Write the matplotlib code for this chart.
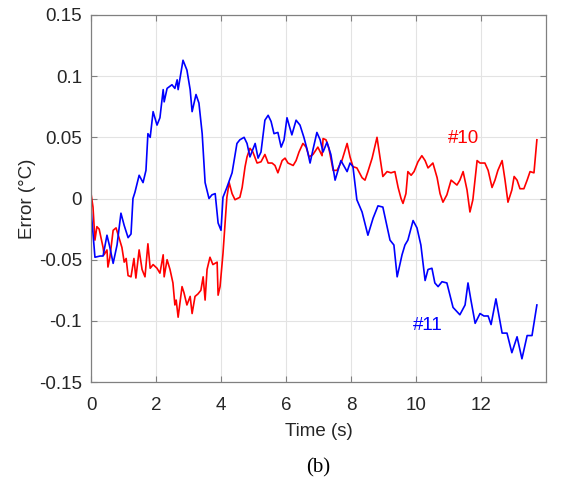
"""
    Error of sensors #10 and #11 over time, MATLAB-style figure (b).
"""

import matplotlib
matplotlib.use('Agg')
import matplotlib.pyplot as plt

# Sensor #11 (blue)
t11 = [0.00, 0.12, 0.28, 0.37, 0.49, 0.58, 0.68, 0.80, 0.92, 1.02, 1.14, 1.23,
       1.29, 1.35, 1.48, 1.60, 1.69, 1.75, 1.82, 1.91, 2.03, 2.12, 2.22, 2.25,
       2.34, 2.49, 2.58, 2.65, 2.68, 2.83, 2.95, 3.05, 3.11, 3.23, 3.32, 3.42,
       3.51, 3.63, 3.72, 3.82, 3.91, 4.00, 4.06, 4.18, 4.34, 4.49, 4.58, 4.71,
       4.80, 4.89, 5.05, 5.14, 5.23, 5.35, 5.45, 5.54, 5.63, 5.75, 5.85, 5.94,
       6.03, 6.18, 6.31, 6.43, 6.55, 6.65, 6.74, 6.83, 6.95, 7.05, 7.14, 7.26,
       7.38, 7.51, 7.69, 7.88, 7.97, 8.06, 8.18, 8.34, 8.52, 8.68, 8.83, 8.98,
       9.11, 9.20, 9.32, 9.42, 9.57, 9.66, 9.75, 9.91, 10.03, 10.15, 10.28,
       10.37, 10.49, 10.58, 10.68, 10.80, 10.95, 11.14, 11.35, 11.51, 11.60,
       11.69, 11.82, 11.97, 12.09, 12.22, 12.31, 12.46, 12.65, 12.80, 12.95,
       13.11, 13.26, 13.42, 13.57, 13.72]
e11 = [-0.009, -0.048, -0.047, -0.047, -0.030, -0.040, -0.053, -0.038, -0.012,
       -0.022, -0.032, -0.029, 0.000, 0.005, 0.019, 0.013, 0.023, 0.053, 0.050,
       0.071, 0.060, 0.066, 0.089, 0.079, 0.090, 0.093, 0.090, 0.097, 0.089,
       0.113, 0.105, 0.089, 0.071, 0.085, 0.078, 0.053, 0.013, 0.000, 0.003,
       0.004, -0.020, -0.026, 0.001, 0.009, 0.021, 0.045, 0.048, 0.050, 0.045,
       0.034, 0.045, 0.033, 0.038, 0.064, 0.068, 0.063, 0.053, 0.054, 0.042,
       0.048, 0.066, 0.052, 0.064, 0.060, 0.050, 0.040, 0.029, 0.040, 0.054,
       0.048, 0.038, 0.046, 0.036, 0.015, 0.031, 0.022, 0.029, 0.026, -0.001,
       -0.011, -0.030, -0.016, -0.006, -0.007, -0.023, -0.034, -0.038, -0.064,
       -0.046, -0.038, -0.034, -0.018, -0.024, -0.038, -0.067, -0.058, -0.057,
       -0.069, -0.072, -0.068, -0.069, -0.089, -0.095, -0.087, -0.069, -0.083,
       -0.102, -0.094, -0.096, -0.096, -0.103, -0.082, -0.110, -0.110, -0.126,
       -0.113, -0.131, -0.112, -0.112, -0.087]

# Sensor #10 (red)
t10 = [0.00, 0.06, 0.12, 0.18, 0.25, 0.37, 0.40, 0.49, 0.52, 0.58, 0.68, 0.77,
       0.86, 0.95, 1.02, 1.08, 1.14, 1.23, 1.32, 1.38, 1.48, 1.57, 1.66, 1.75,
       1.82, 1.91, 2.03, 2.12, 2.22, 2.25, 2.34, 2.43, 2.52, 2.58, 2.62, 2.68,
       2.80, 2.86, 2.95, 3.05, 3.11, 3.20, 3.29, 3.38, 3.45, 3.51, 3.57, 3.66,
       3.75, 3.88, 3.91, 3.97, 4.06, 4.18, 4.25, 4.34, 4.43, 4.58, 4.65, 4.74,
       4.80, 4.89, 4.98, 5.11, 5.23, 5.35, 5.45, 5.57, 5.66, 5.75, 5.88, 5.97,
       6.06, 6.22, 6.31, 6.40, 6.52, 6.62, 6.71, 6.83, 6.98, 7.11, 7.14, 7.23,
       7.32, 7.45, 7.57, 7.72, 7.88, 7.97, 8.06, 8.18, 8.34, 8.43, 8.52, 8.65,
       8.80, 8.89, 8.98, 9.11, 9.23, 9.35, 9.45, 9.54, 9.60, 9.69, 9.75, 9.85,
       9.94, 10.06, 10.18, 10.28, 10.37, 10.52, 10.65, 10.74, 10.83, 10.95,
       11.08, 11.17, 11.26, 11.35, 11.45, 11.57, 11.66, 11.75, 11.88, 11.97,
       12.12, 12.22, 12.34, 12.43, 12.52, 12.65, 12.74, 12.83, 12.95, 13.02,
       13.11, 13.20, 13.32, 13.42, 13.51, 13.63, 13.72]
e10 = [0.004, -0.007, -0.034, -0.023, -0.025, -0.040, -0.046, -0.042, -0.056,
       -0.048, -0.026, -0.024, -0.032, -0.040, -0.052, -0.049, -0.063, -0.064,
       -0.049, -0.065, -0.042, -0.058, -0.064, -0.037, -0.057, -0.054, -0.057,
       -0.061, -0.046, -0.064, -0.050, -0.058, -0.069, -0.087, -0.083, -0.097,
       -0.072, -0.077, -0.087, -0.080, -0.094, -0.080, -0.078, -0.075, -0.064,
       -0.083, -0.058, -0.048, -0.054, -0.052, -0.079, -0.072, -0.045, 0.001,
       0.013, 0.004, -0.001, 0.001, 0.009, 0.026, 0.034, 0.041, 0.038, 0.029,
       0.030, 0.036, 0.029, 0.029, 0.027, 0.021, 0.031, 0.033, 0.029, 0.027,
       0.031, 0.038, 0.045, 0.042, 0.034, 0.036, 0.042, 0.035, 0.049, 0.048,
       0.041, 0.023, 0.023, 0.031, 0.045, 0.034, 0.026, 0.025, 0.017, 0.015,
       0.022, 0.033, 0.050, 0.034, 0.018, 0.022, 0.021, 0.022, 0.009, 0.000,
       -0.004, 0.004, 0.022, 0.019, 0.022, 0.030, 0.035, 0.031, 0.025, 0.029,
       0.017, 0.004, -0.003, 0.003, 0.015, 0.013, 0.011, 0.015, 0.022, 0.007,
       -0.011, -0.001, 0.031, 0.029, 0.029, 0.023, 0.009, 0.015, 0.023, 0.031,
       0.015, -0.003, 0.007, 0.018, 0.015, 0.008, 0.008, 0.015, 0.022, 0.021,
       0.048]

xticks = [0, 2, 4, 6, 8, 10, 12]
yticks = [-0.15, -0.1, -0.05, 0, 0.05, 0.1, 0.15]
yticklabels = ['-0.15', '-0.1', '-0.05', '0', '0.05', '0.1', '0.15']

plt.rcParams['font.family'] = ['Liberation Sans', 'DejaVu Sans']

fig = plt.figure(figsize=(5.62, 4.83), dpi=100)
ax = fig.add_axes([0.162, 0.209, 0.8095, 0.760])

ax.plot(t10, e10, color='#ff0000', linewidth=1.2)
ax.plot(t11, e11, color='#0000ff', linewidth=1.2)

ax.set_xlim(0, 14)
ax.set_ylim(-0.15, 0.15)
ax.set_xticks(xticks)
ax.set_yticks(yticks)
ax.set_yticklabels(yticklabels)
ax.grid(True, color='#e3e3e3', linewidth=0.8)
ax.set_axisbelow(True)
ax.tick_params(direction='in', top=True, right=True, length=4,
               labelsize=13.5, colors='#808080', labelcolor='#262626')
ax.tick_params(axis='x', pad=10.5)
ax.tick_params(axis='y', pad=6.5)
for s in ax.spines.values():
    s.set_color('#808080')
    s.set_linewidth(0.9)

ax.text(11.45, 0.0487, '#10', color='#ff0000', fontsize=13.5,
        ha='center', va='center')
ax.text(10.37, -0.1034, '#11', color='#0000ff', fontsize=13.5,
        ha='center', va='center')

ax.set_xlabel('Time (s)', fontsize=13.5, color='#262626', labelpad=6.5)
ax.set_ylabel('Error (°C)', fontsize=13.5, color='#262626', labelpad=2)

fig.text(0.5 * (0.162 + 0.9715), 1 - 468 / 483, '(b)', family='Liberation Serif',
         fontsize=15, ha='center', va='center')

fig.savefig('out.png', dpi=100)
